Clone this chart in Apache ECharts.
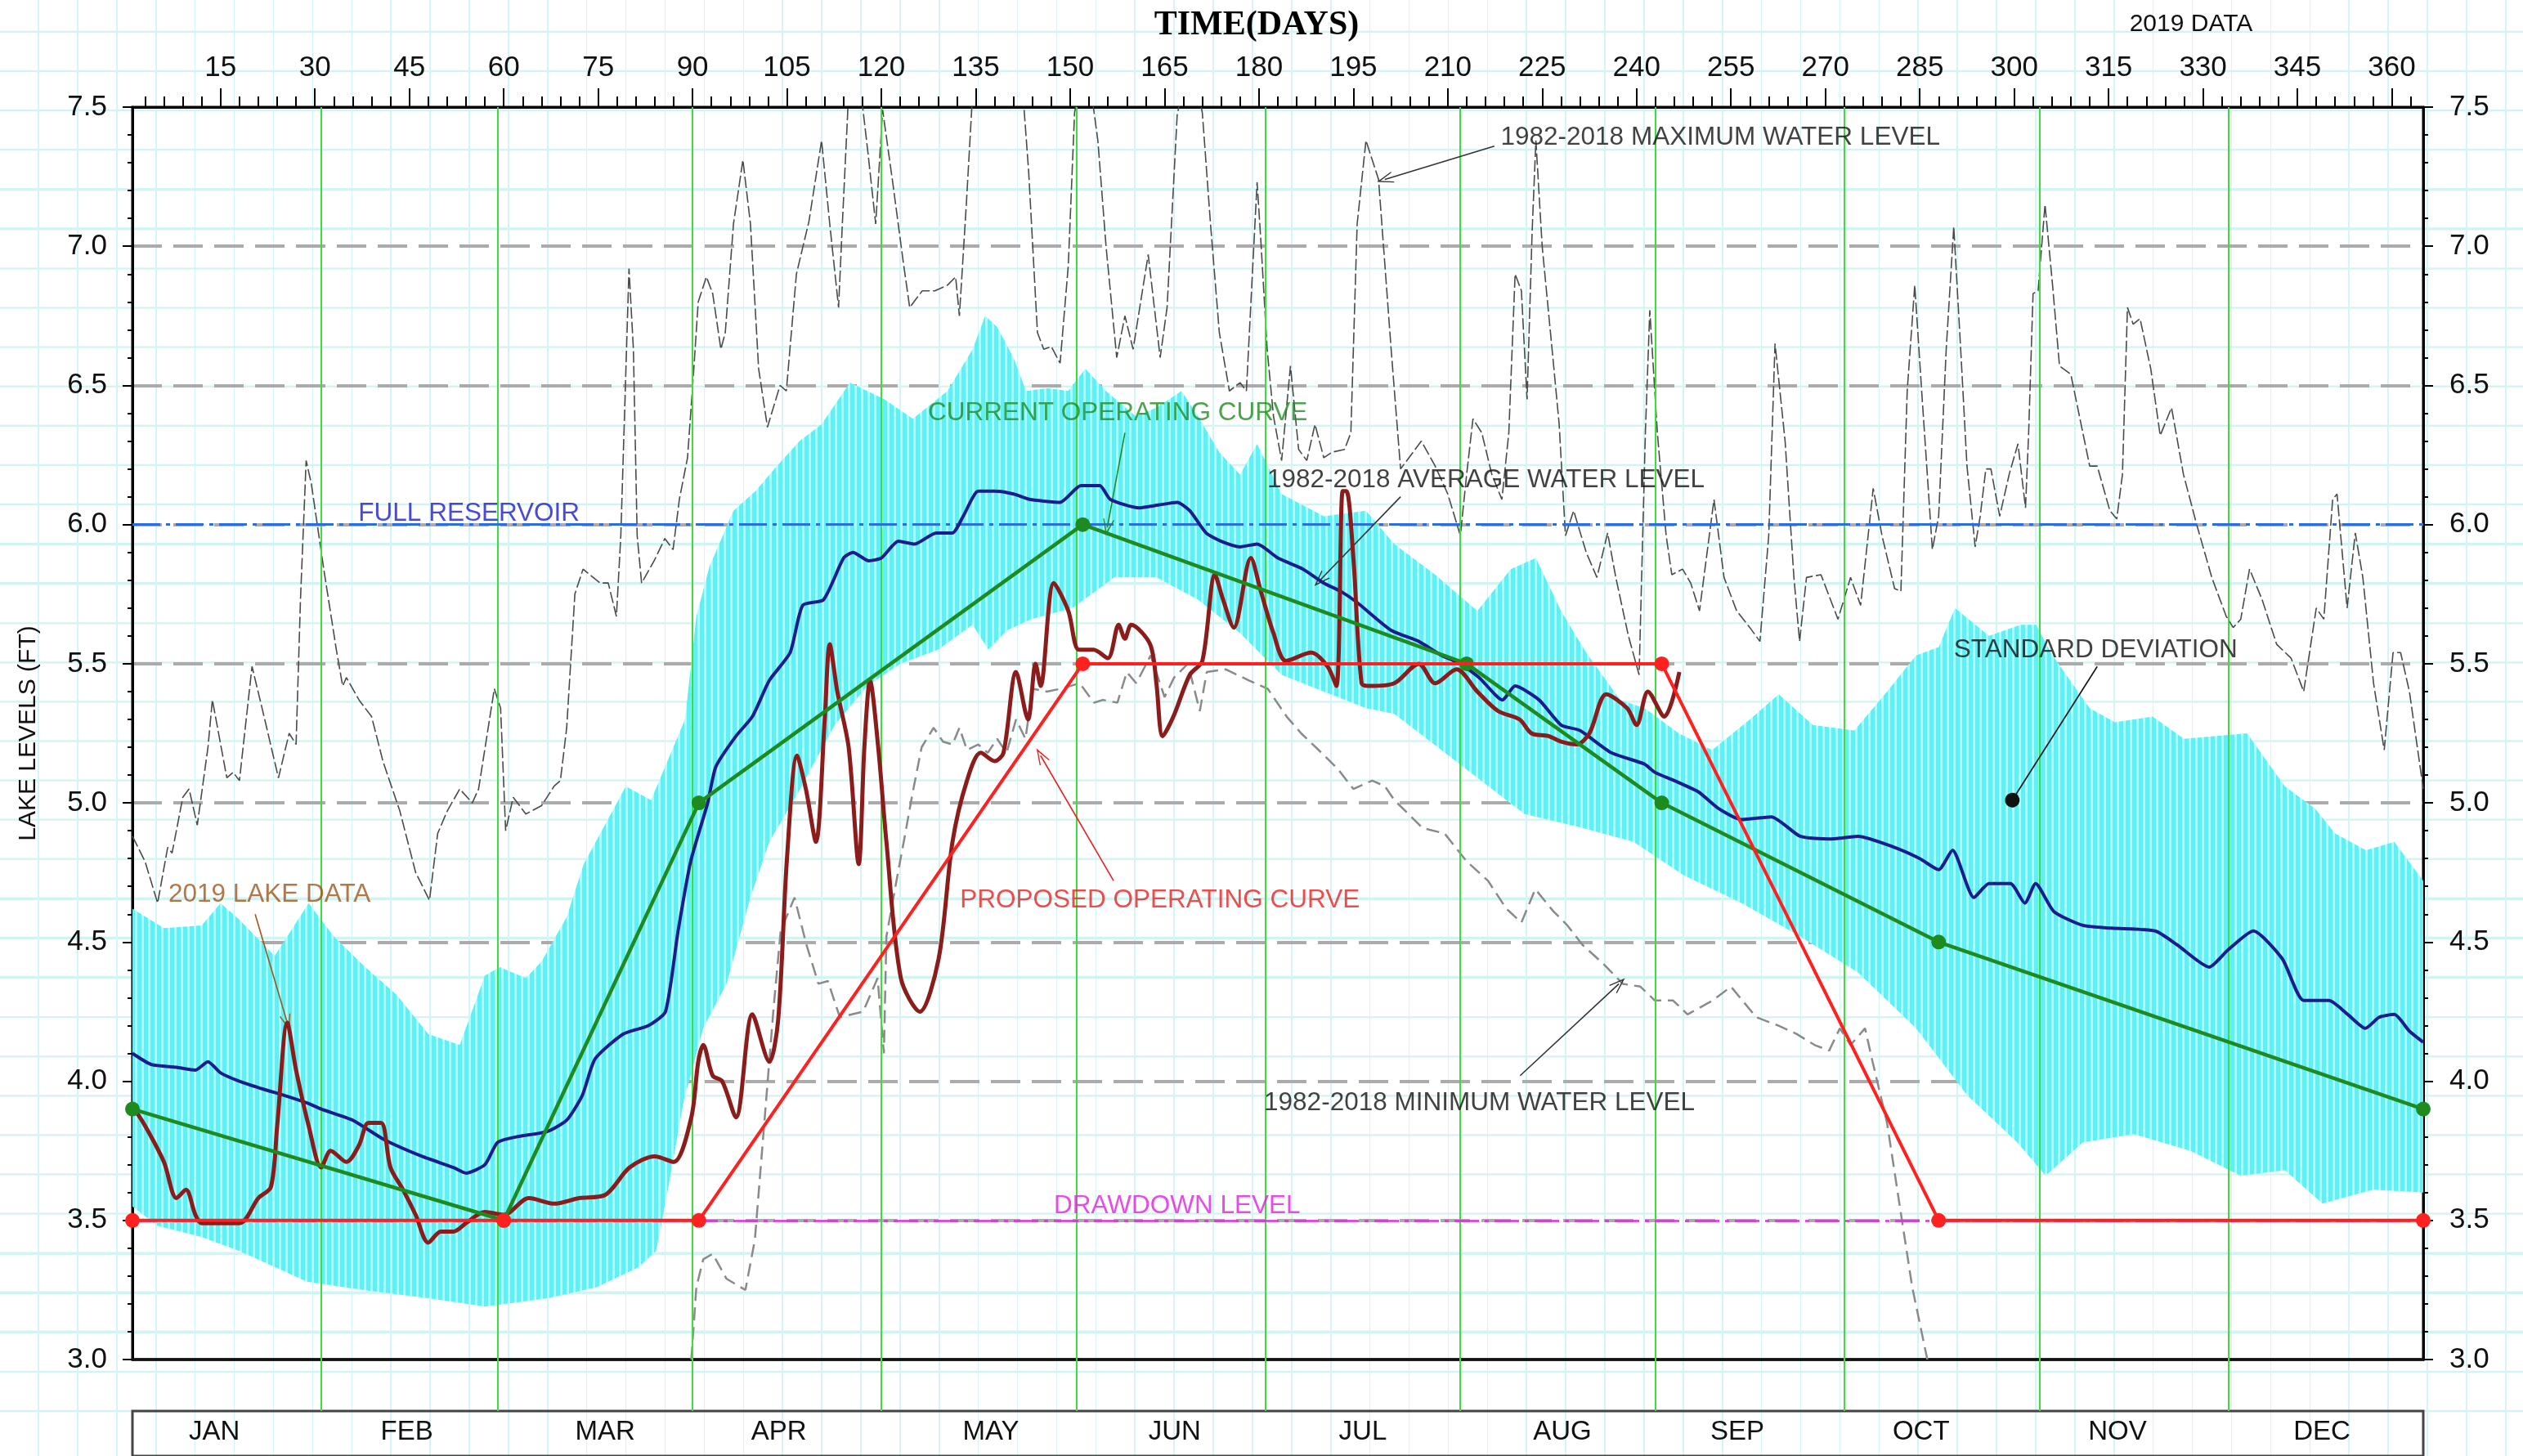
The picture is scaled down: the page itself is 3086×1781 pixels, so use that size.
<!DOCTYPE html>
<html>
<head>
<meta charset="utf-8">
<script src="https://cdn.jsdelivr.net/npm/echarts@6/dist/echarts.min.js"></script>
<style>
html,body{margin:0;padding:0;width:3086px;height:1781px;overflow:hidden;background-color:#fff;
background-image:
 repeating-linear-gradient(to right, rgba(255,255,255,0) 0px, rgba(255,255,255,0) 46.3px, #d4f5f5 46.3px, #d4f5f5 47.9px),
 repeating-linear-gradient(to bottom, rgba(255,255,255,0) 0px, rgba(255,255,255,0) 45.6px, #d1f3f2 45.6px, #d1f3f2 48.2px);
background-position:0 0, 0 -8px;}
#chart{width:3086px;height:1781px;}
</style>
</head>
<body>
<div id="chart"></div>
<script>
// ---------------- DATA ----------------
const dayMin = 1, dayMax = 365;
const topTickLabels = [15,30,45,60,75,90,105,120,135,150,165,180,195,210,225,240,255,270,285,300,315,330,345,360];
const monthNames = ['JAN','FEB','MAR','APR','MAY','JUN','JUL','AUG','SEP','OCT','NOV','DEC'];
const monthLabelDays = [14,44.6,76.1,103.7,137.4,166.6,196.5,228.2,256,285.2,316.4,348.9];
const monthEndDays = [31,59,90,120,151,181,212,243,273,304,334];
const fullReservoirLevel = 6.0;
const drawdownLevel = 3.5;

const currentCurve = [[1,3.9],[60,3.5],[91,5.0],[152,6.0],[213,5.5],[244,5.0],[288,4.5],[365,3.9]];
const proposedCurve = [[1,3.5],[60,3.5],[91,3.5],[152,5.5],[244,5.5],[288,3.5],[365,3.5]];

const avgLevel = [[1,4.10],[4,4.06],[8,4.05],[11,4.04],[13,4.07],[15,4.03],[18,4.00],[22,3.97],[25,3.95],[29,3.92],[31,3.90],[36,3.86],[41,3.79],[47,3.73],[52,3.69],[54,3.67],[57,3.70],[59,3.78],[62,3.80],[67,3.82],[70,3.86],[72.5,3.95],[74.5,4.08],[79,4.17],[83,4.20],[85.7,4.25],[87.7,4.54],[89.7,4.79],[92.4,5.00],[93.7,5.13],[96.9,5.24],[99.5,5.31],[102.2,5.44],[105.5,5.54],[107.5,5.71],[110.8,5.73],[114,5.88],[115.5,5.90],[118,5.87],[120,5.88],[122.7,5.94],[125.3,5.93],[128.7,5.97],[131.3,5.97],[133,6.03],[135.4,6.12],[138,6.12],[141,6.11],[143.7,6.09],[148.4,6.08],[151.7,6.14],[154.7,6.14],[156.4,6.09],[161,6.06],[164,6.07],[167,6.08],[169,6.05],[171.6,5.97],[174,5.94],[177,5.92],[179.7,5.93],[183,5.88],[187,5.84],[190.3,5.79],[193,5.76],[195.6,5.72],[201,5.62],[205.4,5.58],[209,5.53],[212,5.50],[215,5.45],[218.7,5.37],[220.7,5.42],[224.5,5.37],[228,5.28],[231,5.26],[236,5.18],[241.2,5.14],[242.9,5.11],[246,5.08],[249.8,5.04],[253,4.98],[256.7,4.94],[261.4,4.95],[266,4.88],[270.6,4.87],[275.2,4.88],[281,4.84],[285,4.80],[288,4.76],[290.2,4.83],[293.6,4.66],[296,4.71],[299.4,4.71],[301.7,4.64],[303.4,4.71],[306.3,4.61],[310.9,4.56],[315.5,4.55],[322.4,4.54],[325.9,4.49],[331,4.41],[333.9,4.47],[338,4.54],[342.6,4.44],[346,4.29],[350,4.29],[353,4.24],[355.8,4.19],[358,4.23],[360.4,4.24],[362.8,4.18],[365,4.14]];

const lake2019 = [[1,3.91],[3,3.84],[6,3.71],[8,3.58],[9.5,3.61],[11,3.52],[12,3.49],[18,3.49],[21,3.58],[23,3.62],[24,3.84],[25.6,4.21],[27,4.04],[29,3.84],[31,3.69],[32.5,3.75],[35,3.71],[37,3.77],[38.5,3.85],[40.5,3.85],[42,3.69],[44,3.61],[46,3.52],[48,3.42],[50,3.46],[52,3.46],[54,3.49],[57,3.53],[60,3.52],[64,3.58],[68,3.56],[72,3.58],[76,3.59],[80,3.69],[84,3.73],[87,3.71],[89.8,3.87],[90.9,4.07],[91.7,4.13],[93.2,4.02],[94.7,4.00],[96.9,3.87],[99.5,4.24],[102.2,4.07],[103.6,4.22],[105,4.80],[106.6,5.17],[108,5.05],[109.6,4.86],[111,5.30],[111.8,5.57],[113,5.40],[114.8,5.20],[116.4,4.78],[117.3,5.20],[118.2,5.44],[119.5,5.20],[120.8,4.86],[123.1,4.37],[126.1,4.25],[129.1,4.44],[131.3,4.86],[133.6,5.08],[135.8,5.18],[138,5.15],[139.4,5.18],[141.4,5.47],[143.3,5.30],[144.5,5.50],[145.3,5.42],[147.4,5.79],[149.7,5.69],[151.4,5.55],[153.7,5.55],[156,5.52],[157.7,5.64],[158.7,5.59],[159.7,5.64],[162.7,5.57],[163.7,5.43],[164.7,5.24],[166.4,5.31],[169,5.46],[171,5.51],[173,5.82],[174.3,5.73],[176,5.63],[178.7,5.88],[180.3,5.76],[182.3,5.61],[184.3,5.51],[188.3,5.54],[190.9,5.49],[192.3,5.42],[193.3,6.12],[193.9,6.12],[195,5.88],[196.3,5.43],[197.5,5.42],[201.5,5.43],[205.4,5.50],[208,5.43],[211.4,5.48],[214.7,5.40],[218,5.33],[221.4,5.30],[223.3,5.25],[226,5.24],[228,5.22],[230.5,5.21],[232.5,5.25],[235.2,5.39],[238.5,5.34],[240,5.28],[241.8,5.40],[244.4,5.31],[246.8,5.47]];

const maxLevel = [[1,4.88],[3,4.79],[5,4.64],[6.6,4.84],[7.3,4.82],[9,5.02],[10,5.05],[11.3,4.92],[13,5.20],[13.7,5.37],[16,5.09],[17,5.11],[18,5.08],[20,5.49],[21.6,5.34],[24.2,5.09],[25.9,5.25],[27,5.21],[27.7,5.73],[28.6,6.23],[29.4,6.15],[31.4,5.84],[33.4,5.55],[34.4,5.42],[35,5.45],[37,5.37],[39,5.31],[40.8,5.15],[43.5,4.97],[46,4.75],[48.2,4.65],[49.5,4.89],[51,4.97],[53,5.05],[55,5.00],[56,5.05],[58.5,5.41],[59.5,5.34],[60.3,4.90],[61.5,5.02],[63.5,4.96],[66,4.99],[68,5.06],[69,5.08],[70,5.27],[71.3,5.75],[72.6,5.84],[75.3,5.79],[76.6,5.79],[77.9,5.67],[78.6,5.96],[79.9,6.92],[80.6,6.63],[81.2,5.96],[81.9,5.79],[83.9,5.87],[85.6,5.95],[86.9,5.91],[87.9,6.09],[89.2,6.24],[90.2,6.56],[90.9,6.80],[92.2,6.89],[93.2,6.83],[94.5,6.63],[95.2,6.69],[96.5,7.08],[98,7.31],[99.2,7.08],[100.5,6.56],[101.9,6.35],[103.9,6.50],[104.9,6.48],[106.5,6.90],[108.5,7.09],[110.5,7.38],[111.8,7.08],[113.2,6.78],[113.8,7.08],[114.8,7.55],[116,7.70],[117.8,7.35],[119.1,7.08],[120.2,7.49],[121.8,7.23],[123.5,6.94],[124.5,6.78],[126.5,6.84],[128.5,6.84],[130.5,6.86],[131.8,6.89],[132.4,6.75],[133.5,7.15],[134.5,7.55],[136,7.80],[139,7.80],[142,7.70],[143.4,7.27],[144.8,6.69],[145.8,6.63],[147,6.64],[148.4,6.58],[149.7,6.93],[150.7,7.48],[152.5,7.70],[154.4,7.38],[155.7,7.00],[157.4,6.60],[158.7,6.75],[160,6.63],[162.4,6.97],[164.3,6.60],[165.4,6.78],[167,7.47],[169,7.70],[171,7.48],[172.3,7.08],[173.7,6.69],[175.3,6.48],[177,6.51],[178,6.48],[179.7,7.23],[180.3,7.02],[181.3,6.63],[182.3,6.39],[183.6,6.23],[185,6.57],[186.3,6.27],[187.6,6.23],[188.9,6.36],[190.3,6.24],[191.6,6.26],[193.6,6.27],[194.6,6.33],[195.6,7.08],[197,7.38],[199,7.24],[201,6.63],[202.5,6.20],[205.8,6.30],[208,6.21],[210,6.11],[212,5.96],[213,6.18],[214,6.38],[215.4,6.33],[217,6.18],[218.6,6.09],[219.7,6.33],[220.7,6.90],[221.7,6.84],[222.6,6.45],[223.4,7.05],[224,7.38],[225,7.00],[226.7,6.60],[227.7,6.36],[228.7,5.96],[230,6.05],[232,5.90],[233.7,5.81],[235.4,5.97],[236.7,5.81],[238.7,5.60],[240.4,5.46],[241.4,6.33],[242.1,6.77],[243.3,6.33],[244.7,5.96],[245.6,5.82],[247.3,5.84],[248.6,5.79],[250,5.69],[252.3,6.09],[253.9,5.81],[255.9,5.69],[258,5.63],[259.6,5.58],[261,5.96],[262,6.65],[263.6,6.30],[265,5.81],[265.9,5.58],[267,5.81],[269.3,5.82],[272,5.66],[274,5.81],[275.6,5.71],[277.6,6.13],[279,5.96],[281,5.77],[282,5.76],[283,6.48],[284.2,6.86],[285.3,6.48],[287,5.91],[288,6.03],[289.2,6.63],[290.4,7.07],[291.5,6.63],[292.5,6.21],[293.8,5.92],[294.6,6.03],[295.5,6.20],[296.3,6.20],[297.7,6.03],[299.2,6.18],[300.6,6.29],[301.8,6.06],[302.3,6.33],[303,6.83],[303.8,6.84],[304.9,7.15],[306.1,6.86],[307.2,6.57],[309,6.54],[312,6.21],[313.2,6.21],[315.2,6.05],[316.3,6.02],[317.2,6.18],[318,6.78],[318.9,6.72],[320,6.74],[321.7,6.56],[323.2,6.32],[325,6.42],[326.9,6.18],[329,6.00],[331.4,5.81],[333.7,5.67],[334.8,5.63],[336,5.66],[337.4,5.84],[339.4,5.73],[341.7,5.57],[344,5.52],[346,5.40],[348,5.70],[349.2,5.66],[350.6,6.09],[351.3,6.11],[352.9,5.70],[354.2,5.97],[355.4,5.81],[357.1,5.43],[358.8,5.19],[360.2,5.54],[361.4,5.54],[362.8,5.40],[365,5.05]];

const minLevel = [[89.8,3.00],[90.6,3.26],[91.7,3.36],[93.2,3.38],[95.4,3.29],[98.4,3.25],[99.9,3.43],[101.4,3.85],[102.9,4.27],[104,4.54],[106.2,4.66],[108.1,4.49],[110,4.35],[111.5,4.36],[113.4,4.23],[117.1,4.25],[119.4,4.37],[120.4,4.10],[120.8,4.52],[122.4,4.72],[123.8,4.89],[125,5.04],[126.4,5.20],[128.3,5.27],[129.8,5.22],[131.3,5.21],[132.4,5.27],[133.6,5.19],[135.4,5.21],[136.9,5.18],[138.4,5.23],[139.9,5.18],[141.4,5.30],[142.9,5.23],[144,5.41],[146.3,5.40],[148.5,5.41],[151.5,5.43],[153.8,5.36],[155.2,5.37],[157.5,5.36],[159,5.47],[160.5,5.43],[162.8,5.53],[165,5.38],[166.5,5.45],[168.7,5.50],[170.6,5.33],[171.7,5.47],[174.7,5.48],[178.4,5.44],[181.4,5.41],[184.4,5.31],[186.7,5.25],[190.4,5.17],[192.6,5.12],[195,5.05],[198,5.08],[200,5.06],[201.5,5.01],[206,4.91],[209.5,4.89],[213,4.79],[216.4,4.72],[219.3,4.62],[221.7,4.57],[223.9,4.69],[226.8,4.61],[229,4.56],[231.4,4.49],[234.8,4.42],[237.8,4.35],[240.6,4.34],[242.9,4.29],[245.8,4.29],[248.1,4.24],[252.1,4.29],[255,4.34],[259,4.23],[262.5,4.20],[265.4,4.17],[268.3,4.13],[270.6,4.11],[272.3,4.19],[274,4.13],[276.3,4.19],[277.5,4.07],[279.8,3.85],[282.1,3.51],[283.8,3.26],[286.2,3.00]];

const sdUpper = [[1,4.62],[6,4.55],[12,4.56],[15,4.64],[18,4.58],[23.6,4.45],[29,4.64],[33,4.52],[38,4.41],[43,4.31],[48,4.17],[53,4.13],[57,4.38],[59.4,4.41],[63.5,4.37],[66,4.43],[70,4.59],[72.7,4.78],[79.4,5.06],[83.4,5.01],[88.8,5.30],[90.6,5.67],[92.7,5.85],[96.5,6.05],[100,6.12],[103,6.20],[107,6.30],[110.5,6.36],[115,6.51],[120.5,6.45],[125,6.38],[130.5,6.48],[134.5,6.63],[136.5,6.75],[138.4,6.71],[141,6.60],[143,6.48],[146.4,6.49],[149.7,6.48],[152.4,6.56],[155.7,6.48],[160.4,6.39],[163.7,6.42],[167.7,6.48],[170.3,6.39],[173.7,6.26],[177,6.18],[179.7,6.29],[183.6,6.11],[190.3,6.03],[197,6.05],[201.5,5.93],[208,5.82],[214.7,5.69],[220,5.84],[224,5.88],[228,5.69],[232,5.54],[237.4,5.37],[241.3,5.34],[246.7,5.25],[252,5.19],[258,5.30],[262.6,5.39],[268,5.28],[274.6,5.26],[279.8,5.40],[284.4,5.53],[288,5.56],[290.6,5.70],[296,5.60],[301,5.64],[303.5,5.64],[305.8,5.54],[309.2,5.43],[312,5.34],[316,5.29],[322,5.31],[327,5.23],[337,5.25],[343,5.06],[347.8,4.98],[351,4.89],[355.9,4.83],[360.4,4.86],[365,4.72]];

const sdLower = [[1,3.55],[5,3.48],[12,3.44],[18,3.39],[28.7,3.28],[37.7,3.25],[48,3.22],[57,3.19],[67,3.22],[74.8,3.26],[81.3,3.33],[84.2,3.39],[86,3.60],[88.6,3.93],[91.7,4.19],[95.4,4.35],[99.2,4.66],[102.2,4.86],[106.6,5.03],[112.6,5.28],[117.8,5.42],[123,5.50],[129,5.55],[134.5,5.64],[137,5.55],[140,5.62],[143.8,5.66],[150.4,5.70],[157,5.81],[163.7,5.81],[170.3,5.73],[177,5.61],[183.6,5.46],[190.3,5.40],[197,5.34],[201.5,5.32],[208.4,5.20],[215.3,5.08],[222.2,4.96],[231.4,4.91],[239.5,4.86],[247.5,4.74],[256.7,4.64],[266,4.52],[275.2,4.39],[284.4,4.19],[292.5,3.95],[300.5,3.78],[305,3.66],[310.9,3.78],[319,3.81],[328,3.75],[336,3.66],[343,3.68],[349,3.56],[357,3.61],[365,3.60]];

const annotationTexts = ['1982-2018 MAXIMUM WATER LEVEL','1982-2018 AVERAGE WATER LEVEL','CURRENT OPERATING CURVE','PROPOSED OPERATING CURVE','1982-2018 MINIMUM WATER LEVEL','STANDARD DEVIATION','2019 LAKE DATA','FULL RESERVOIR','DRAWDOWN LEVEL'];

// ---------------- LAYOUT / STYLE ----------------
const FONT = '"Liberation Sans", Arial, sans-serif';
const annotationAnchors = [[218.4,7.39],[181.3,6.16],[127.4,6.40],[132.5,4.65],[180.8,3.92],[290.4,5.55],[6.7,4.67],[36.9,6.04],[147.4,3.55]];
const annotationColors = ['#111','#111','#228b22','#e82020','#111','#111','#a0551a','#1a1ad0','#e020e0'];
const arrows = [
  {from:[217.4,7.36], to:[200,7.24], color:'#333'},
  {from:[202.5,6.10], to:[189.7,5.80], color:'#333'},
  {from:[158.7,6.33], to:[155.9,5.99], color:'#228b22'},
  {from:[156.9,4.72], to:[145.3,5.17], color:'#e82020'},
  {from:[221.5,4.02], to:[237.2,4.35], color:'#333'},
  {from:[20.5,4.60], to:[25.6,4.21], color:'#a0551a'}
];
const stdPointer = {from:[313.2,5.49], to:[299.7,5.01]};

const chevron = 'path://M5,0 L10,10 L9,10 L5,2.2 L1,10 L0,10 Z';

const pc = document.createElement('canvas');
pc.width = 8; pc.height = 8;
const pg = pc.getContext('2d');
pg.fillStyle = '#b8f8fa'; pg.fillRect(0,0,8,8);
pg.fillStyle = '#62eff3'; pg.fillRect(0,0,5,8);
const stripePattern = {image: pc, repeat: 'repeat'};

const minorTicks = [];
for (let d = 3; d <= 363; d += 3) minorTicks.push(d);

const G = {left:162, top:131, width:2802, height:1532};

const chart = echarts.init(document.getElementById('chart'), null, {renderer:'canvas'});

const option = {
  animation: false,
  backgroundColor: 'transparent',
  textStyle: {fontFamily: FONT},
  graphic: [
    {type:'text', x:1537, y:31, style:{text:'TIME(DAYS)', font:'bold 42px "Liberation Serif", "Times New Roman", serif', fill:'#000', textAlign:'center', textVerticalAlign:'middle'}},
    {type:'text', x:2680, y:30, style:{text:'2019 DATA', font:'30px ' + FONT, fill:'#111', textAlign:'center', textVerticalAlign:'middle'}}
  ],
  grid: [
    {left:G.left, top:G.top, width:G.width, height:G.height, show:true, borderColor:'#000', borderWidth:3, backgroundColor:'transparent'},
    {left:G.left, top:G.top + G.height, width:G.width, height:63, show:false},
    {left:G.left, top:1726, width:G.width, height:200, show:true, borderColor:'#444', borderWidth:3, backgroundColor:'transparent'}
  ],
  xAxis: [
    {gridIndex:0, type:'value', min:dayMin, max:dayMax, position:'top',
     axisLine:{show:true, lineStyle:{color:'#000', width:3}},
     axisTick:{show:true, customValues:minorTicks, length:13, lineStyle:{color:'#000', width:2}},
     axisLabel:{show:false}, splitLine:{show:false}},
    {gridIndex:0, type:'value', min:dayMin, max:dayMax, position:'top',
     axisLine:{show:false},
     axisTick:{show:true, customValues:topTickLabels, length:23, lineStyle:{color:'#000', width:2}},
     axisLabel:{show:true, customValues:topTickLabels, fontSize:35, color:'#111', margin:30, fontFamily:FONT},
     splitLine:{show:false}},
    {gridIndex:1, type:'value', min:dayMin, max:dayMax, show:false},
    {gridIndex:2, type:'value', min:dayMin, max:dayMax, position:'top',
     axisLine:{show:false}, axisTick:{show:false}, splitLine:{show:false},
     axisLabel:{show:true, inside:true, customValues:monthLabelDays, margin:9, fontSize:33, color:'#111', fontFamily:FONT,
       formatter: v => monthNames[monthLabelDays.indexOf(v)] || ''}},
    {gridIndex:0, type:'value', min:dayMin, max:dayMax, position:'bottom',
     axisLine:{show:true, lineStyle:{color:'#111', width:3.5}}, axisTick:{show:false}, axisLabel:{show:false}, splitLine:{show:false}}
  ],
  yAxis: [
    {gridIndex:0, type:'value', min:3, max:7.5, interval:0.5, position:'left',
     name:'LAKE LEVELS (FT)', nameLocation:'middle', nameGap:112, nameRotate:90,
     nameTextStyle:{fontSize:30, color:'#111', fontFamily:FONT},
     axisLine:{show:true, lineStyle:{color:'#000', width:3}},
     axisTick:{show:true, length:12, lineStyle:{color:'#000', width:2}},
     minorTick:{show:true, splitNumber:5, length:6, lineStyle:{color:'#000', width:2}},
     axisLabel:{fontSize:35, color:'#111', margin:31, fontFamily:FONT, formatter: v => v.toFixed(1)},
     splitLine:{show:true, showMinLine:false, showMaxLine:false, lineStyle:{color:'#ababab', width:4, type:[36,14]}}},
    {gridIndex:0, type:'value', min:3, max:7.5, interval:0.5, position:'right',
     axisLine:{show:true, lineStyle:{color:'#000', width:3}},
     axisTick:{show:true, length:12, lineStyle:{color:'#000', width:2}},
     minorTick:{show:true, splitNumber:5, length:6, lineStyle:{color:'#000', width:2}},
     axisLabel:{fontSize:35, color:'#111', margin:32, fontFamily:FONT, formatter: v => v.toFixed(1)},
     splitLine:{show:false}},
    {gridIndex:1, type:'value', min:0, max:1, show:false},
    {gridIndex:2, type:'value', min:0, max:1, show:false}
  ],
  series: [
    {name:'Standard deviation', type:'custom', xAxisIndex:0, yAxisIndex:0, z:1, silent:true,
     data:[[dayMin, 3]], encode:{x:0, y:1},
     renderItem: (params, api) => {
       const pts = sdUpper.map(p => api.coord(p)).concat(sdLower.slice().reverse().map(p => api.coord(p)));
       return {type:'polygon', shape:{points:pts}, style:{fill:stripePattern}};
     }},
    {name:'month lines', type:'line', xAxisIndex:0, yAxisIndex:0, z:2, silent:true,
     data:[[dayMin,3]], showSymbol:false, symbolSize:0, lineStyle:{opacity:0},
     markLine:{silent:true, symbol:'none', label:{show:false},
       lineStyle:{color:'#3fdc3f', width:2, type:'solid'},
       data: monthEndDays.map(d => ({xAxis:d}))}},
    {name:'month lines gap', type:'line', xAxisIndex:2, yAxisIndex:2, z:2, silent:true,
     data:[[dayMin,0]], showSymbol:false, symbolSize:0, lineStyle:{opacity:0},
     markLine:{silent:true, symbol:'none', label:{show:false},
       lineStyle:{color:'#3fdc3f', width:2, type:'solid'},
       data: monthEndDays.map(d => ({xAxis:d}))}},
    {name:'levels', type:'line', xAxisIndex:0, yAxisIndex:0, z:3, silent:true,
     data:[[dayMin,3]], showSymbol:false, symbolSize:0, lineStyle:{opacity:0},
     markLine:{silent:true, symbol:'none', label:{show:false},
       data:[
         {yAxis:fullReservoirLevel, lineStyle:{color:'#2a6ee0', width:3, type:[34,7,5,7]}},
         {yAxis:drawdownLevel, lineStyle:{color:'#e02ee0', width:2.5, type:[30,7,5,7]}}
       ]}},
    {name:'1982-2018 MINIMUM', type:'line', xAxisIndex:0, yAxisIndex:0, z:4, data:minLevel,
     showSymbol:false, clip:true, lineStyle:{color:'#8a8a8a', width:2.5, type:[16,8]}},
    {name:'1982-2018 MAXIMUM', type:'line', xAxisIndex:0, yAxisIndex:0, z:4, data:maxLevel,
     showSymbol:false, clip:true, lineStyle:{color:'#4a4a4a', width:1.6, type:[14,4]}},
    {name:'1982-2018 AVERAGE', type:'line', xAxisIndex:0, yAxisIndex:0, z:5, data:avgLevel,
     showSymbol:false, smooth:0.2, lineStyle:{color:'#1c1c8c', width:4}},
    {name:'2019 LAKE DATA', type:'line', xAxisIndex:0, yAxisIndex:0, z:6, data:lake2019,
     showSymbol:false, smooth:0.3, lineStyle:{color:'#8b1c1c', width:5}},
    {name:'CURRENT OPERATING CURVE', type:'line', xAxisIndex:0, yAxisIndex:0, z:7, data:currentCurve,
     symbol:'circle', symbolSize:18, showSymbol:true, itemStyle:{color:'#1f8a1f'},
     lineStyle:{color:'#1f8a1f', width:4.5}},
    {name:'PROPOSED OPERATING CURVE', type:'line', xAxisIndex:0, yAxisIndex:0, z:8, data:proposedCurve,
     symbol:'circle', symbolSize:18, showSymbol:true, itemStyle:{color:'#ff2020'},
     lineStyle:{color:'#ff2020', width:4}},
    {name:'arrows', type:'line', xAxisIndex:0, yAxisIndex:0, z:9, silent:true,
     data:[[dayMin,3]], showSymbol:false, symbolSize:0, lineStyle:{opacity:0},
     markLine:{silent:true, label:{show:false}, symbol:['none', chevron], symbolSize:[14,20],
       data: arrows.map(a => [
         {coord:a.from, symbol:'none', lineStyle:{color:a.color, width:1.6, type:'solid'}},
         {coord:a.to, symbol:chevron, symbolSize:[14,20], itemStyle:{color:a.color}}
       ]).concat([[
         {coord:stdPointer.from, symbol:'none', lineStyle:{color:'#111', width:1.6, type:'solid'}},
         {coord:stdPointer.to, symbol:'circle', symbolSize:18, itemStyle:{color:'#000'}}
       ]])}},
    {name:'annotations', type:'scatter', xAxisIndex:0, yAxisIndex:0, z:10, silent:true,
     symbolSize:0,
     data: annotationTexts.map((t,i) => ({name:t, value:annotationAnchors[i],
       label:{color:annotationColors[i]}})),
     label:{show:true, position:'right', distance:0, formatter:'{b}', fontSize:31.5, fontFamily:FONT, color:'#111'}}
  ]
};
chart.setOption(option);
</script>
</body>
</html>
